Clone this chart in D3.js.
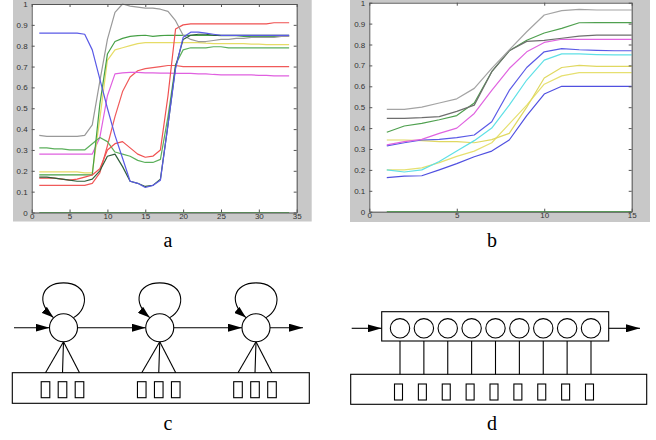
<!DOCTYPE html>
<html><head><meta charset="utf-8">
<script src="https://cdn.jsdelivr.net/npm/d3@7/dist/d3.min.js"></script>
<style>body{margin:0;background:#fff}svg{display:block}</style>
</head><body>
<svg id="c" width="656" height="440"></svg>
<script>
// ---------- data: panel a ----------
const xA = [1,2,3,4,5,6,7,8,9,10,11,12,13,14,15,16,17,18,19,20,21,22,23,24,25,26,27,28,29,30,31,32,33,34];
const aBlue    = [0.86,0.86,0.86,0.86,0.86,0.86,0.855,0.78,0.64,0.50,0.37,0.26,0.15,0.14,0.12,0.13,0.155,0.42,0.69,0.84,0.865,0.865,0.86,0.855,0.85,0.85,0.85,0.85,0.85,0.85,0.85,0.85,0.85,0.85];
const aGray    = [0.37,0.365,0.365,0.365,0.365,0.365,0.37,0.42,0.63,0.83,0.96,1.0,0.99,0.985,0.98,0.98,0.975,0.965,0.92,0.85,0.83,0.82,0.82,0.825,0.83,0.83,0.835,0.835,0.84,0.84,0.84,0.84,0.845,0.845];
const aGreenA  = [0.31,0.31,0.305,0.305,0.30,0.30,0.30,0.33,0.36,0.34,0.29,0.28,0.27,0.25,0.24,0.24,0.255,0.46,0.71,0.78,0.79,0.79,0.79,0.795,0.795,0.79,0.79,0.79,0.79,0.79,0.79,0.79,0.79,0.79];
const aMagenta = [0.28,0.28,0.28,0.28,0.28,0.28,0.28,0.28,0.36,0.56,0.665,0.67,0.672,0.672,0.67,0.67,0.668,0.668,0.667,0.667,0.667,0.665,0.665,0.662,0.66,0.66,0.66,0.66,0.66,0.658,0.658,0.655,0.655,0.655];
const aYellow  = [0.195,0.195,0.195,0.195,0.195,0.195,0.19,0.19,0.45,0.73,0.78,0.79,0.80,0.81,0.815,0.815,0.815,0.815,0.815,0.815,0.815,0.815,0.812,0.81,0.81,0.81,0.81,0.81,0.808,0.808,0.805,0.805,0.805,0.805];
const aGreenB  = [0.18,0.18,0.18,0.18,0.18,0.18,0.18,0.18,0.52,0.76,0.82,0.835,0.845,0.848,0.85,0.845,0.848,0.85,0.85,0.85,0.85,0.85,0.85,0.85,0.848,0.848,0.848,0.845,0.845,0.845,0.845,0.845,0.845,0.845];
const aRedA    = [0.13,0.13,0.13,0.13,0.13,0.13,0.13,0.14,0.19,0.32,0.46,0.58,0.65,0.68,0.69,0.695,0.70,0.705,0.705,0.70,0.70,0.70,0.70,0.70,0.70,0.70,0.70,0.70,0.70,0.70,0.70,0.70,0.70,0.70];
const aRedB    = [0.165,0.165,0.165,0.16,0.155,0.16,0.17,0.18,0.21,0.30,0.33,0.34,0.31,0.28,0.265,0.27,0.30,0.56,0.88,0.90,0.905,0.905,0.905,0.905,0.905,0.905,0.905,0.905,0.905,0.905,0.905,0.91,0.91,0.91];
const aDark    = [0.17,0.17,0.165,0.16,0.155,0.15,0.15,0.16,0.20,0.27,0.28,0.22,0.15,0.14,0.125,0.13,0.16,0.42,0.70,0.83,0.85,0.855,0.855,0.85,0.85,0.85,0.85,0.85,0.85,0.85,0.85,0.85,0.85,0.85];
const aZero    = [0,0,0,0,0,0,0,0,0,0,0,0,0,0,0,0,0,0,0,0,0,0,0,0,0,0,0,0,0,0,0,0,0,0];
const aXTicks = [0,5,10,15,20,25,30,35];
const aXTickLabels = ["0","5","10","15","20","25","30","35"];

// ---------- data: panel b ----------
const xB = [1,2,3,4,5,6,7,8,9,10,11,12,13,14,15];
const bGray    = [0.49,0.49,0.50,0.52,0.54,0.59,0.686,0.774,0.861,0.941,0.962,0.968,0.965,0.965,0.965];
const bDark    = [0.447,0.447,0.45,0.455,0.48,0.51,0.67,0.77,0.815,0.82,0.83,0.84,0.845,0.845,0.845];
const bGreen   = [0.38,0.41,0.423,0.44,0.46,0.52,0.67,0.77,0.82,0.855,0.877,0.904,0.905,0.905,0.905];
const bMagenta = [0.32,0.335,0.346,0.375,0.40,0.47,0.58,0.685,0.765,0.81,0.825,0.825,0.825,0.825,0.825];
const bBlue    = [0.315,0.33,0.343,0.346,0.354,0.367,0.43,0.58,0.69,0.765,0.78,0.775,0.772,0.77,0.77];
const bCyan    = [0.20,0.19,0.20,0.24,0.29,0.34,0.40,0.51,0.63,0.725,0.755,0.755,0.752,0.75,0.75];
const bYellowA = [0.343,0.343,0.34,0.335,0.335,0.33,0.345,0.375,0.50,0.64,0.69,0.70,0.695,0.695,0.695];
const bYellowB = [0.20,0.20,0.21,0.235,0.265,0.29,0.33,0.42,0.51,0.61,0.65,0.665,0.665,0.665,0.665];
const bBlue2   = [0.163,0.17,0.172,0.20,0.23,0.263,0.29,0.343,0.46,0.563,0.60,0.60,0.60,0.60,0.60];
const bZero    = [0,0,0,0,0,0,0,0,0,0,0,0,0,0,0];
const bXTicks = [0,5,10,15];
const bXTickLabels = ["0","5","10","15"];

const yTicks = [0,0.1,0.2,0.3,0.4,0.5,0.6,0.7,0.8,0.9,1];
const yTickLabels = ["0","0.1","0.2","0.3","0.4","0.5","0.6","0.7","0.8","0.9","1"];

// ---------- diagram data ----------
const cNodes = ["s1","s2","s3"];
const cObsPerNode = ["o1","o2","o3"];
const dNodes = ["q1","q2","q3","q4","q5","q6","q7","q8","q9"];
const panelLetters = ["a","b","c","d"];

const svg = d3.select("#c");

// markers
const defs = svg.append("defs");
defs.append("marker").attr("id","arr").attr("markerUnits","userSpaceOnUse")
  .attr("viewBox","0 0 14 8").attr("markerWidth",14).attr("markerHeight",8)
  .attr("refX",14).attr("refY",4).attr("orient","auto")
  .append("path").attr("d","M0,0L14,4L0,8Z").attr("fill","#000");
defs.append("marker").attr("id","arrs").attr("markerUnits","userSpaceOnUse")
  .attr("viewBox","0 0 12 8").attr("markerWidth",12).attr("markerHeight",8)
  .attr("refX",12).attr("refY",4).attr("orient","auto")
  .append("path").attr("d","M0,0L12,4L0,8Z").attr("fill","#000");

function panel(cfg) {
  const g = svg.append("g");
  g.append("rect").attr("x",cfg.bg[0]).attr("y",cfg.bg[1]).attr("width",cfg.bg[2]).attr("height",cfg.bg[3]).attr("fill","#c8c8c8");
  const x = d3.scaleLinear().domain(cfg.xDomain).range(cfg.xRange);
  const y = d3.scaleLinear().domain([0,1]).range(cfg.yRange);
  g.append("rect").attr("x",cfg.xRange[0]).attr("y",cfg.yRange[1])
    .attr("width",cfg.xRange[1]-cfg.xRange[0]).attr("height",cfg.yRange[0]-cfg.yRange[1]).attr("fill","#fff");
  const line = d3.line().x((d,i)=>x(cfg.xs[i])).y(d=>y(d));
  cfg.series.forEach(s=>{
    g.append("path").attr("d",line(s.v)).attr("fill","none").attr("stroke",s.c).attr("stroke-width",1.2).attr("stroke-linejoin","round");
  });
  const fmtX = d => cfg.xLabels[cfg.xTicks.indexOf(d)];
  const fmtY = d => yTickLabels[yTicks.indexOf(d)];
  const axStyle = sel => {
    sel.selectAll("path,line").attr("stroke","#555");
    sel.selectAll("text").attr("fill","#333").style("font-family","'Liberation Sans',Arial,sans-serif").style("font-size","8px");
  };
  g.append("g").attr("transform",`translate(0,${cfg.yRange[0]})`)
    .call(d3.axisBottom(x).tickValues(cfg.xTicks).tickFormat(fmtX).tickSizeInner(-3).tickSizeOuter(0).tickPadding(1)).call(axStyle);
  g.append("g").attr("transform",`translate(0,${cfg.yRange[1]})`)
    .call(d3.axisTop(x).tickValues(cfg.xTicks).tickFormat("").tickSizeInner(-3).tickSizeOuter(0)).call(axStyle);
  g.append("g").attr("transform",`translate(${cfg.xRange[0]},0)`)
    .call(d3.axisLeft(y).tickValues(yTicks).tickFormat(fmtY).tickSizeInner(-3).tickSizeOuter(0).tickPadding(4)).call(axStyle);
  g.append("g").attr("transform",`translate(${cfg.xRange[1]},0)`)
    .call(d3.axisRight(y).tickValues(yTicks).tickFormat("").tickSizeInner(-3).tickSizeOuter(0)).call(axStyle);
  g.selectAll(".domain").attr("stroke","#555");
}

panel({
  bg:[13,0,298.7,221.5], xDomain:[0,35], xRange:[31.7,296.7], yRange:[212.5,4],
  xs:xA, xTicks:aXTicks, xLabels:aXTickLabels,
  series:[
    {v:aZero,c:"#5cb85c"},
    {v:aRedA,c:"#f05a5a"},
    {v:aMagenta,c:"#e060e0"},
    {v:aYellow,c:"#e6dc66"},
    {v:aGreenA,c:"#5cb05c"},
    {v:aGreenB,c:"#46a046"},
    {v:aRedB,c:"#f05050"},
    {v:aGray,c:"#999999"},
    {v:aDark,c:"#2f5f3a"},
    {v:aBlue,c:"#5a5ae6"}
  ]
});
panel({
  bg:[350,0,300,222], xDomain:[0,15], xRange:[369.3,631.7], yRange:[211.7,2.7],
  xs:xB, xTicks:bXTicks, xLabels:bXTickLabels,
  series:[
    {v:bZero,c:"#5cb85c"},
    {v:bBlue2,c:"#5050e0"},
    {v:bYellowB,c:"#e6e070"},
    {v:bYellowA,c:"#e0d860"},
    {v:bCyan,c:"#5fe0e6"},
    {v:bBlue,c:"#5a5ae6"},
    {v:bMagenta,c:"#e064e0"},
    {v:bGreen,c:"#4fa04f"},
    {v:bDark,c:"#6e6e6e"},
    {v:bGray,c:"#a4a4a4"}
  ]
});

// ---------- diagram c ----------
const dg = svg.append("g").attr("fill","none").attr("stroke","#000").attr("stroke-width",1.1);
const cx = d3.scaleLinear().domain([0,cNodes.length-1]).range([63.5,256]);
const cy = 327.7, cr = 14;
const cRect = {x0:12.3,x1:309.3,y0:372.7,y1:403.3};
const obsOff = d3.scaleLinear().domain([0,cObsPerNode.length-1]).range([-18,16]);
dg.append("rect").attr("x",cRect.x0).attr("y",cRect.y0).attr("width",cRect.x1-cRect.x0).attr("height",cRect.y1-cRect.y0);
cNodes.forEach((n,i)=>{
  const X = cx(i);
  cObsPerNode.forEach((o,j)=>{
    const ox = X + obsOff(j);
    dg.append("line").attr("x1",X).attr("y1",cy+cr).attr("x2",ox).attr("y2",cRect.y0);
    dg.append("rect").attr("x",ox-4.3).attr("y",381.7).attr("width",8.6).attr("height",16);
  });
  dg.append("circle").attr("cx",X).attr("cy",cy).attr("r",cr).attr("fill","#fff");
  const r = cr;
  dg.append("path").attr("marker-end","url(#arrs)")
    .attr("d",`M${X+r*0.72},${cy-r*0.72} C${X+r*1.9},${cy-r*1.4} ${X+r*1.8},${cy-r*3.2} ${X},${cy-r*3.2} C${X-r*1.6},${cy-r*3.2} ${X-r*2.0},${cy-r*1.8} ${X-r*0.72},${cy-r*0.72}`);
  if (i < cNodes.length-1) {
    dg.append("line").attr("x1",X+cr).attr("y1",cy).attr("x2",cx(i+1)-cr).attr("y2",cy).attr("marker-end","url(#arr)");
  }
});
dg.append("line").attr("x1",14).attr("y1",cy).attr("x2",cx(0)-cr).attr("y2",cy).attr("marker-end","url(#arr)");
dg.append("line").attr("x1",cx(cNodes.length-1)+cr).attr("y1",cy).attr("x2",303).attr("y2",cy).attr("marker-end","url(#arr)");

// ---------- diagram d ----------
const dx = d3.scaleLinear().domain([0,dNodes.length-1]).range([400,591]);
const dcy = 328.3, dr = 9.7;
const dTop = {x0:381.7,x1:608.7,y0:311.7,y1:341};
const dBot = {x0:350.7,x1:646.7,y0:374.3,y1:404.3};
dg.append("rect").attr("x",dTop.x0).attr("y",dTop.y0).attr("width",dTop.x1-dTop.x0).attr("height",dTop.y1-dTop.y0);
dg.append("rect").attr("x",dBot.x0).attr("y",dBot.y0).attr("width",dBot.x1-dBot.x0).attr("height",dBot.y1-dBot.y0);
dNodes.forEach((n,i)=>{
  const X = dx(i);
  dg.append("circle").attr("cx",X).attr("cy",dcy).attr("r",dr);
  dg.append("line").attr("x1",X).attr("y1",dTop.y1).attr("x2",X).attr("y2",dBot.y0);
  dg.append("rect").attr("x",X-5.5).attr("y",384).attr("width",8).attr("height",16);
});
dg.append("line").attr("x1",351.7).attr("y1",dcy).attr("x2",dTop.x0).attr("y2",dcy).attr("marker-end","url(#arr)");
dg.append("line").attr("x1",dTop.x1).attr("y1",dcy).attr("x2",640).attr("y2",dcy).attr("marker-end","url(#arr)");

// ---------- panel letters ----------
const letterPos = [[168,247],[492,247],[168,430],[492,430]];
svg.selectAll("text.lbl").data(panelLetters).enter().append("text").attr("class","lbl")
  .attr("x",(d,i)=>letterPos[i][0]).attr("y",(d,i)=>letterPos[i][1])
  .attr("text-anchor","middle").style("font-family","'Liberation Serif','Times New Roman',serif")
  .style("font-size","20px").attr("fill","#000").text(d=>d);
</script>
</body></html>
